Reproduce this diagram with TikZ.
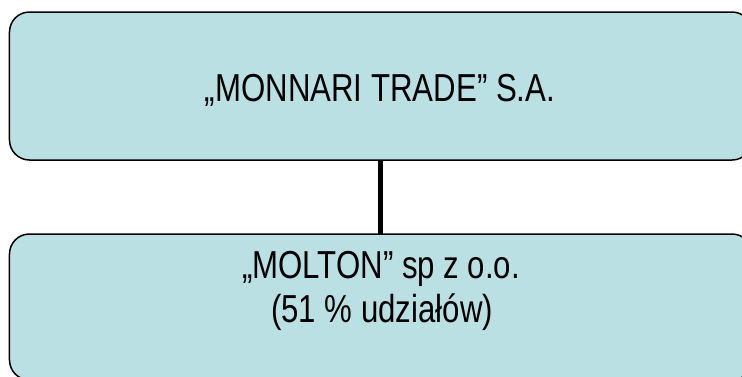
\documentclass[tikz,border=0pt]{standalone}
\usepackage{fontspec}
\setmainfont{Liberation Sans}[FakeStretch=0.8]
\definecolor{boxfill}{RGB}{187,224,227}
\begin{document}
\begin{tikzpicture}[x=1bp,y=-1bp,
  orgbox/.style={draw=black,line width=1.5bp,fill=boxfill,rounded corners=20bp,
    minimum width=742.5bp,inner sep=0pt,outer sep=0pt},
  boxtext/.style={font=\fontsize{39bp}{44.5bp}\selectfont,inner sep=0pt,anchor=base}]
\useasboundingbox (0,0) rectangle (742,376);
\node[orgbox,minimum height=148bp] (top) at (380.75,86) {};
\node[orgbox,minimum height=146bp] (bot) at (380.75,307) {};
\draw[line width=5bp] (top.south) -- (bot.north);
\node[boxtext] (toptext) at (380,101) {„MONNARI TRADE” S.A.};
\node[boxtext] (bottext1) at (381,278) {„MOLTON” sp z o.o.};
\node[boxtext] (bottext2) at (382,322.5) {(51 \% udziałów)};
\end{tikzpicture}
\end{document}
